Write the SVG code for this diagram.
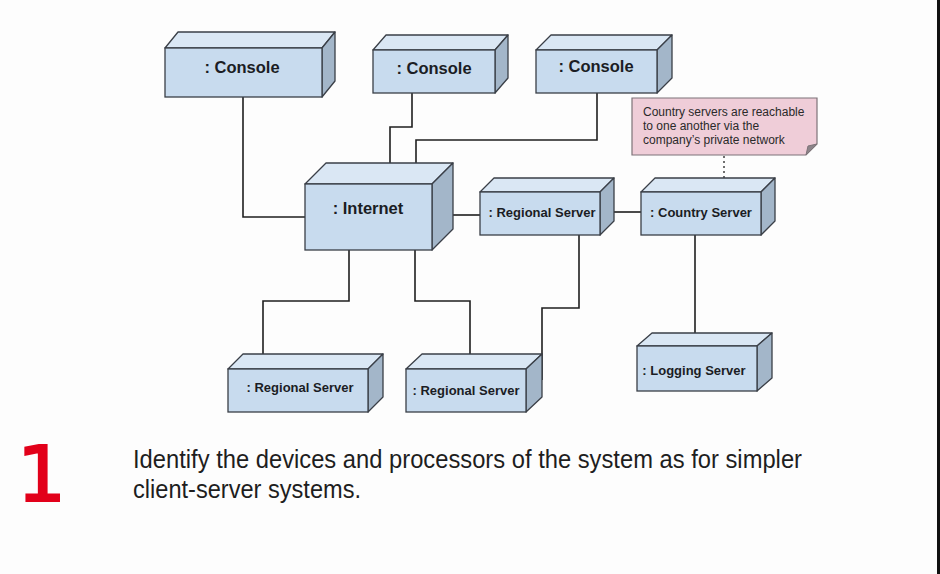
<svg xmlns="http://www.w3.org/2000/svg" width="940" height="574" viewBox="0 0 940 574">
<style>
.front{fill:#c8dbee;stroke:#3a3f47;stroke-width:1.3}
.top{fill:#dae7f4;stroke:#3a3f47;stroke-width:1.3;stroke-linejoin:round}
.side{fill:#a3b6c9;stroke:#3a3f47;stroke-width:1.3;stroke-linejoin:round}
.lbl{font-family:"Liberation Sans",Arial,sans-serif;font-weight:bold;fill:#1b1d24;text-anchor:middle}
.big{font-size:16.5px}
.sm{font-size:13px}
.conn{fill:none;stroke:#1f1f1f;stroke-width:1.6}
.note{font-family:"Liberation Sans",Arial,sans-serif;font-size:12px;fill:#2a2a2a}
.body{font-family:"Liberation Sans",Arial,sans-serif;font-size:25.5px;fill:#1e1e1e}
</style>
<rect x="0" y="0" width="940" height="574" fill="#fdfdfd"/>
<rect x="937" y="0" width="3" height="574" fill="#111"/>

<g id="connectors">
<path class="conn" d="M243,97 V217 H305"/>
<path class="conn" d="M412,93 V127 H390 V163"/>
<path class="conn" d="M597,93 V140 H416 V163"/>
<path class="conn" d="M453,215 H480"/>
<path class="conn" d="M614,212 H641"/>
<path class="conn" d="M349,250 V301 H263 V354"/>
<path class="conn" d="M415,250 V301 H470 V354"/>
<path class="conn" d="M579,235 V308 H542 V380"/>
<path class="conn" d="M695,235 V333"/>
<path d="M724,156 V178" fill="none" stroke="#333" stroke-width="1.4" stroke-dasharray="2,3"/>
</g>

<g id="console1">
<polygon class="top" points="165,48 178,32 335,32 322,48"/>
<polygon class="side" points="322,48 335,32 335,81 322,97"/>
<rect class="front" x="165" y="48" width="157" height="49"/>
<text class="lbl big" x="242" y="73">: Console</text>
</g>

<g id="console2">
<polygon class="top" points="373,50 386,35 508,35 495,50"/>
<polygon class="side" points="495,50 508,35 508,78 495,93"/>
<rect class="front" x="373" y="50" width="122" height="43"/>
<text class="lbl big" x="434" y="74">: Console</text>
</g>

<g id="console3">
<polygon class="top" points="536,50 551,35 672,35 657,50"/>
<polygon class="side" points="657,50 672,35 672,78 657,93"/>
<rect class="front" x="536" y="50" width="121" height="43"/>
<text class="lbl big" x="596" y="72">: Console</text>
</g>

<g id="note">
<path d="M632,98 H817 V144 L806,155 H632 Z" fill="#efcdd8" stroke="#7d7378" stroke-width="1.2"/>
<path d="M806,155 L808,146 L817,144 Z" fill="#8c8489" stroke="#7d7378" stroke-width="1"/>
<text class="note" x="643" y="116">Country servers are reachable</text>
<text class="note" x="643" y="130">to one another via the</text>
<text class="note" x="643" y="144">company’s private network</text>
</g>

<g id="internet">
<polygon class="top" points="305,184 326,163 453,163 432,184"/>
<polygon class="side" points="432,184 453,163 453,229 432,250"/>
<rect class="front" x="305" y="184" width="127" height="66"/>
<text class="lbl big" x="368" y="214">: Internet</text>
</g>

<g id="regional-server-1">
<polygon class="top" points="480,192 494,178 614,178 600,192"/>
<polygon class="side" points="600,192 614,178 614,221 600,235"/>
<rect class="front" x="480" y="192" width="120" height="43"/>
<text class="lbl sm" x="542" y="217">: Regional Server</text>
</g>

<g id="country-server">
<polygon class="top" points="641,192 655,178 775,178 761,192"/>
<polygon class="side" points="761,192 775,178 775,221 761,235"/>
<rect class="front" x="641" y="192" width="120" height="43"/>
<text class="lbl sm" x="701" y="217">: Country Server</text>
</g>

<g id="regional-server-2">
<polygon class="top" points="228,369 243,354 383,354 368,369"/>
<polygon class="side" points="368,369 383,354 383,397 368,412"/>
<rect class="front" x="228" y="369" width="140" height="43"/>
<text class="lbl sm" x="300" y="392">: Regional Server</text>
</g>

<g id="regional-server-3">
<polygon class="top" points="406,369 422,354 542,354 526,369"/>
<polygon class="side" points="526,369 542,354 542,397 526,412"/>
<rect class="front" x="406" y="369" width="120" height="43"/>
<text class="lbl sm" x="466" y="395">: Regional Server</text>
</g>

<g id="logging-server">
<polygon class="top" points="637,346 652,333 772,333 757,346"/>
<polygon class="side" points="757,346 772,333 772,378 757,391"/>
<rect class="front" x="637" y="346" width="120" height="45"/>
<text class="lbl sm" x="694" y="375">: Logging Server</text>
</g>

<g id="caption">
<text x="17" y="501" font-family="'DejaVu Sans',sans-serif" font-size="77" fill="#e2001a" stroke="#e2001a" stroke-width="2.2">1</text>
<text class="body" x="133" y="468" textLength="669" lengthAdjust="spacingAndGlyphs">Identify the devices and processors of the system as for simpler</text>
<text class="body" x="133" y="498" textLength="228" lengthAdjust="spacingAndGlyphs">client-server systems.</text>
</g>
</svg>
